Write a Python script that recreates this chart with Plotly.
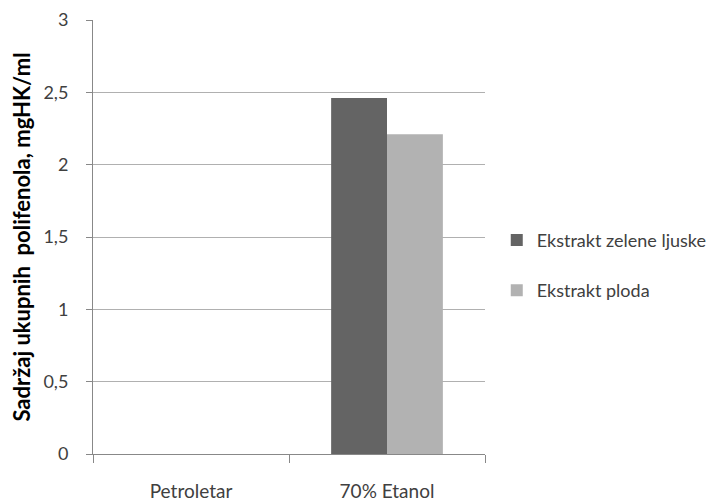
import plotly.graph_objects as go

# Total polyphenol content by extraction solvent
categories = ["Petroletar", "70% Etanol"]
series_names = ["Ekstrakt zelene ljuske", "Ekstrakt ploda"]
green_husk = [None, 2.46]
fruit = [None, 2.21]
y_ticks = [0, 0.5, 1, 1.5, 2, 2.5, 3]
y_tick_labels = ["0", "0,5", "1", "1,5", "2", "2,5", "3"]

colors = ["#646464", "#b2b2b2"]
font_family = "Lato, Open Sans, sans-serif"
text_color = "#404040"

fig = go.Figure()
for name, vals, col in zip(series_names, [green_husk, fruit], colors):
    fig.add_trace(go.Bar(
        x=categories, y=vals, name=name, legendgroup=name,
        marker=dict(color=col, line=dict(width=0)),
    ))

fig.update_layout(
    width=717, height=503,
    margin=dict(l=93, r=232, t=20, b=49, autoexpand=False),
    paper_bgcolor="white", plot_bgcolor="white",
    barmode="group", bargap=0.43, bargroupgap=0,
    font=dict(family=font_family, size=18, color=text_color),
    showlegend=True,
    legend=dict(
        x=1.03, y=0.435, xanchor="left", yanchor="middle",
        font=dict(size=18, color=text_color),
        tracegroupgap=24, itemwidth=30,
    ),
    xaxis=dict(
        type="category", tickson="boundaries", ticks="outside",
        ticklen=8, tickcolor="#888888", showline=True,
        linecolor="#888888", linewidth=1, showgrid=False,
        automargin=False,
        ticklabelstandoff=20, tickfont=dict(size=19, color=text_color),
    ),
    yaxis=dict(
        range=[0, 3], tickvals=y_ticks, ticktext=y_tick_labels,
        ticks="outside", ticklen=6, tickcolor="#888888",
        showline=True, linecolor="#888888", linewidth=1,
        showgrid=True, gridcolor="#b0b0b0", gridwidth=1,
        zeroline=False, ticklabelstandoff=14, automargin=False,
        tickfont=dict(size=18, color=text_color),
        title=dict(
            text="<b>Sadržaj ukupnih&nbsp;&nbsp;polifenola, mgHK/ml</b>",
            font=dict(size=22, color="#000000"), standoff=6,
        ),
    ),
)

fig.write_html("out.html")
